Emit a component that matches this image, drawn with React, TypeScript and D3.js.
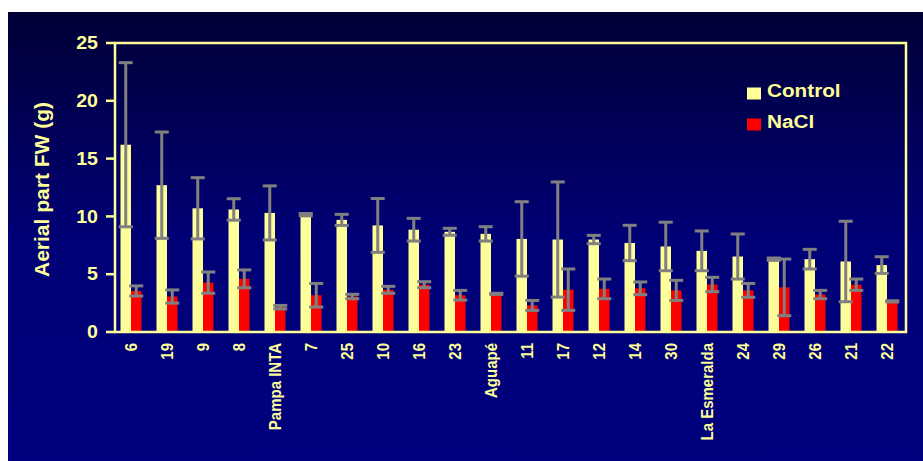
import React from "react";
import * as d3 from "d3";

const categories = ["6", "19", "9", "8", "Pampa INTA", "7", "25", "10", "16", "23", "Aguapé", "11", "17", "12", "14", "30", "La Esmeralda", "24", "29", "26", "21", "22"];
const control = [16.2, 12.7, 10.7, 10.6, 10.3, 10.15, 9.7, 9.22, 8.85, 8.67, 8.49, 8.05, 8.0, 8.0, 7.7, 7.4, 7.02, 6.53, 6.3, 6.3, 6.1, 5.79];
const controlErr = [7.1, 4.6, 2.65, 0.93, 2.34, 0.1, 0.48, 2.33, 0.98, 0.3, 0.62, 3.22, 4.98, 0.36, 1.53, 2.1, 1.72, 1.95, 0.1, 0.85, 3.48, 0.72];
const nacl = [3.55, 3.07, 4.27, 4.6, 2.15, 3.18, 3.07, 3.65, 4.09, 3.18, 3.3, 2.3, 3.66, 3.73, 3.78, 3.6, 4.11, 3.6, 3.86, 3.24, 4.09, 2.65];
const naclErr = [0.44, 0.57, 0.92, 0.77, 0.15, 1.02, 0.19, 0.3, 0.26, 0.42, 0.05, 0.43, 1.79, 0.85, 0.55, 0.87, 0.62, 0.6, 2.45, 0.36, 0.49, 0.05];
const yTicks = [0, 5, 10, 15, 20, 25];
const seriesNames = ["Control", "NaCl"];

const W = 923;
const H = 461;
const FONT = "'Liberation Sans', Arial, sans-serif";
const YELLOW = "#FFFF99";
const RED = "#FF0000";
const GREY = "#808080";

const frame = { left: 115, right: 906, top: 43, bottom: 332 };

const x = d3.scaleBand<string>().domain(categories).range([113, 905]);
const y = d3.scaleLinear().domain([0, 25]).range([frame.bottom, frame.top]);

const barW = 10.5;
const capW = 14;

function ErrorBar({ cx, v, e }: { cx: number; v: number; e: number }) {
  const y1 = y(v + e);
  const y2 = y(v - e);
  return (
    <g stroke={GREY} strokeWidth={3}>
      <line x1={cx} x2={cx} y1={y1} y2={y2} />
      <line x1={cx - capW / 2} x2={cx + capW / 2} y1={y1} y2={y1} />
      <line x1={cx - capW / 2} x2={cx + capW / 2} y1={y2} y2={y2} />
    </g>
  );
}

export default function App() {
  const colors = [YELLOW, RED];
  return (
    <svg width={W} height={H} style={{ position: "absolute", left: 0, top: 0 }} fontFamily={FONT}>
      <defs>
        <linearGradient id="panelBg" x1="0" y1="0" x2="0" y2="1">
          <stop offset="0%" stopColor="#000036" />
          <stop offset="50%" stopColor="#000076" />
          <stop offset="100%" stopColor="#00007e" />
        </linearGradient>
      </defs>
      <rect x={0} y={0} width={W} height={H} fill="#ffffff" />
      <rect x={8} y={12} width={W - 8} height={H - 12} fill="url(#panelBg)" />

      {/* bars */}
      {categories.map((c, i) => {
        const cx = (x(c) as number) + x.bandwidth() / 2;
        return (
          <g key={c}>
            <rect x={cx - barW} y={y(control[i])} width={barW} height={y(0) - y(control[i])} fill={YELLOW} />
            <rect x={cx} y={y(nacl[i])} width={barW} height={y(0) - y(nacl[i])} fill={RED} />
          </g>
        );
      })}

      {/* error bars */}
      {categories.map((c, i) => {
        const cx = (x(c) as number) + x.bandwidth() / 2;
        return (
          <g key={"e" + c}>
            <ErrorBar cx={cx - barW / 2} v={control[i]} e={controlErr[i]} />
            <ErrorBar cx={cx + barW / 2} v={nacl[i]} e={naclErr[i]} />
          </g>
        );
      })}

      {/* frame and y axis */}
      <rect
        x={frame.left}
        y={frame.top}
        width={frame.right - frame.left}
        height={frame.bottom - frame.top}
        fill="none"
        stroke={YELLOW}
        strokeWidth={2.5}
      />
      {yTicks.map((t) => (
        <g key={t}>
          <line x1={106} x2={frame.left} y1={y(t)} y2={y(t)} stroke={YELLOW} strokeWidth={2.5} />
          <text
            transform={`translate(98,${y(t)}) scale(1.12,1)`}
            textAnchor="end"
            dominantBaseline="central"
            fontSize={17.5}
            fontWeight="bold"
            fill={YELLOW}
          >
            {t}
          </text>
        </g>
      ))}

      {/* category labels */}
      {categories.map((c) => {
        const cx = (x(c) as number) + x.bandwidth() / 2;
        return (
          <text
            key={"l" + c}
            transform={`translate(${cx},343) rotate(-90) scale(1,1.1)`}
            textAnchor="end"
            dominantBaseline="central"
            fontSize={15}
            fontWeight="bold"
            fill={YELLOW}
          >
            {c}
          </text>
        );
      })}

      {/* y axis title */}
      <text
        transform={`translate(41,${(frame.top + frame.bottom) / 2 + 2}) rotate(-90)`}
        textAnchor="middle"
        dominantBaseline="central"
        fontSize={21}
        fontWeight="bold"
        fill={YELLOW}
      >
        Aerial part FW (g)
      </text>

      {/* legend */}
      {seriesNames.map((s, i) => (
        <g key={s} transform={`translate(747,${87.5 + i * 31})`}>
          <rect x={0} y={0} width={14} height={12} fill={colors[i]} />
          <text
            transform="translate(20,9.5) scale(1.12,1)"
            fontSize={18.5}
            fontWeight="bold"
            fill={YELLOW}
          >
            {s}
          </text>
        </g>
      ))}
    </svg>
  );
}
